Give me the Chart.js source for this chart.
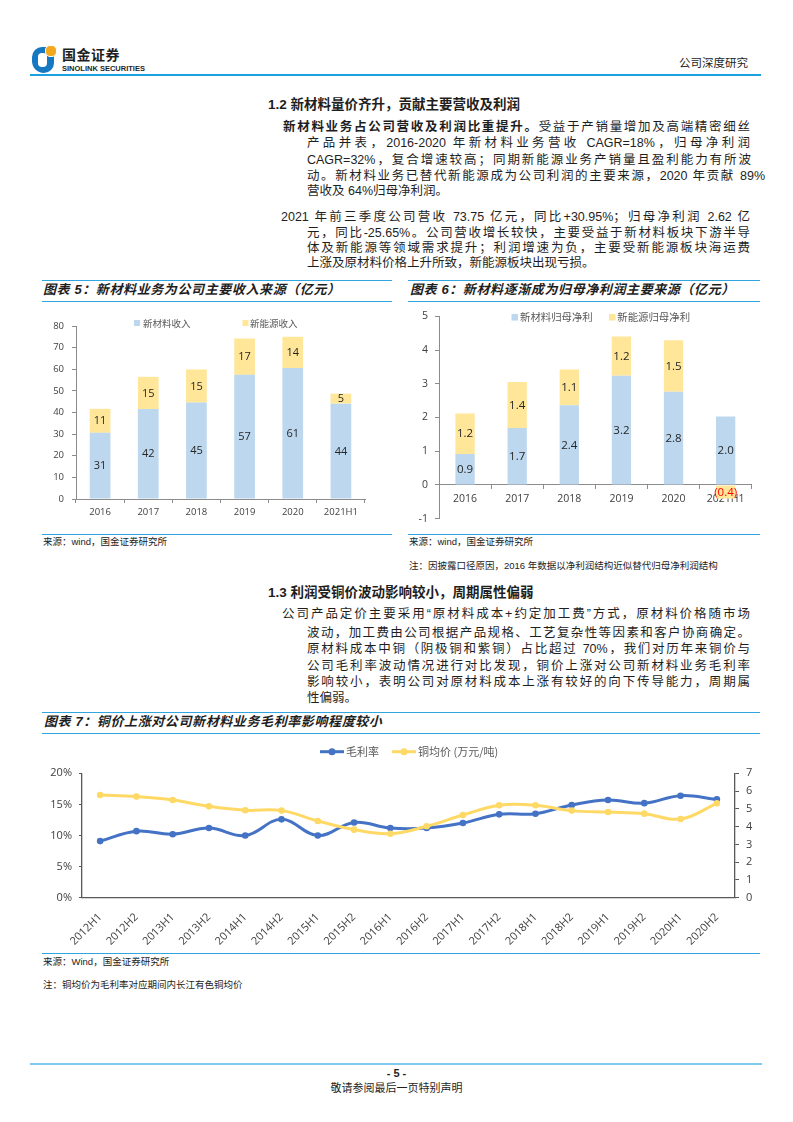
<!DOCTYPE html>
<html><head><meta charset="utf-8">
<script src="https://cdn.jsdelivr.net/npm/chart.js@4.4.1/dist/chart.umd.min.js"></script>
<style>
html,body{margin:0;padding:0;background:#fff;}
body{width:793px;height:1122px;position:relative;overflow:hidden;font-family:"Liberation Sans","Noto Sans CJK SC",sans-serif;color:#1e1e1e;}
.a{position:absolute;white-space:nowrap;}
.t{position:absolute;font-size:12.5px;line-height:16px;height:16px;}
.j{text-align:justify;text-align-last:justify;}
.h{position:absolute;white-space:nowrap;font-weight:bold;font-size:13.5px;line-height:18px;}
.ct{position:absolute;white-space:nowrap;font-weight:bold;font-style:italic;font-size:13px;letter-spacing:0.6px;line-height:18px;}
.bl{position:absolute;height:0;border-top:1.5px solid #31A5DF;}
.src{position:absolute;white-space:nowrap;font-size:9.5px;line-height:12px;color:#222;}
canvas{position:absolute;}
</style></head>
<body>
<!-- header -->
<div class="a" style="left:32px;top:47px;width:22px;height:26px;border-radius:11px 9px 11px 13px;background:#1677C2;"></div>
<div class="a" style="left:38px;top:53px;width:9px;height:14px;border-radius:4px;background:#fff;"></div>
<div class="a" style="left:45px;top:45px;width:10px;height:10px;border-radius:5px;background:#F4A81D;border:1px solid #fff;"></div>
<div class="a" style="left:62px;top:46px;font-size:14px;font-weight:bold;line-height:18px;letter-spacing:0.5px;">国金证券</div>
<div class="a" style="left:62px;top:64px;font-size:7.5px;font-weight:bold;line-height:9px;">SINOLINK SECURITIES</div>
<div class="a" style="left:679px;top:56px;font-size:11.5px;line-height:14px;">公司深度研究</div>
<div class="a" style="left:30px;top:74px;width:731px;border-top:2px solid #1BA1E2;"></div>

<!-- section 1.2 -->
<div class="h" style="left:268px;top:96px;">1.2 新材料量价齐升，贡献主要营收及利润</div>
<div class="t j" style="left:283px;top:119px;width:467px;"><b>新材料业务占公司营收及利润比重提升。</b>受益于产销量增加及高端精密细丝</div>
<div class="t j" style="left:307px;top:135px;width:443px;">产品并表，2016-2020 年新材料业务营收 CAGR=18%，归母净利润</div>
<div class="t j" style="left:307px;top:152px;width:444px;">CAGR=32%，复合增速较高；同期新能源业务产销量且盈利能力有所波</div>
<div class="t j" style="left:307px;top:168px;width:458px;">动。新材料业务已替代新能源成为公司利润的主要来源，2020 年贡献 89%</div>
<div class="t" style="left:307px;top:183px;white-space:nowrap;">营收及 64%归母净利润。</div>
<div class="t j" style="left:281px;top:209px;width:469px;">2021 年前三季度公司营收 73.75 亿元，同比+30.95%；归母净利润 2.62 亿</div>
<div class="t j" style="left:307px;top:225px;width:443px;">元，同比-25.65%。公司营收增长较快，主要受益于新材料板块下游半导</div>
<div class="t j" style="left:307px;top:240px;width:443px;">体及新能源等领域需求提升；利润增速为负，主要受新能源板块海运费</div>
<div class="t" style="left:307px;top:255px;white-space:nowrap;">上涨及原材料价格上升所致，新能源板块出现亏损。</div>

<!-- chart 5 / 6 frames -->
<div class="bl" style="left:42px;top:280px;width:350px;"></div>
<div class="bl" style="left:42px;top:301px;width:350px;"></div>
<div class="ct" style="left:43px;top:281px;">图表 5：新材料业务为公司主要收入来源（亿元）</div>
<div class="bl" style="left:408px;top:280px;width:352px;"></div>
<div class="bl" style="left:408px;top:301px;width:352px;"></div>
<div class="ct" style="left:410px;top:281px;">图表 6：新材料逐渐成为归母净利润主要来源（亿元）</div>
<canvas id="c5" width="350" height="225" style="left:42px;top:305px;width:350px;height:225px;"></canvas>
<canvas id="c6" width="355" height="229" style="left:405px;top:303px;width:355px;height:229px;"></canvas>
<div class="bl" style="left:42px;top:534px;width:350px;"></div>
<div class="bl" style="left:408px;top:534px;width:352px;"></div>
<div class="src" style="left:43px;top:536px;">来源：wind，国金证券研究所</div>
<div class="src" style="left:409px;top:536px;">来源：wind，国金证券研究所</div>
<div class="src" style="left:409px;top:560px;">注：因披露口径原因，2016 年数据以净利润结构近似替代归母净利润结构</div>

<!-- section 1.3 -->
<div class="h" style="left:268px;top:584px;">1.3 利润受铜价波动影响较小，周期属性偏弱</div>
<div class="t j" style="left:282px;top:606px;width:468px;">公司产品定价主要采用“原材料成本+约定加工费”方式，原材料价格随市场</div>
<div class="t j" style="left:307px;top:625px;width:443px;">波动，加工费由公司根据产品规格、工艺复杂性等因素和客户协商确定。</div>
<div class="t j" style="left:307px;top:641px;width:443px;">原材料成本中铜（阴极铜和紫铜）占比超过 70%，我们对历年来铜价与</div>
<div class="t j" style="left:307px;top:658px;width:443px;">公司毛利率波动情况进行对比发现，铜价上涨对公司新材料业务毛利率</div>
<div class="t j" style="left:307px;top:674px;width:443px;">影响较小，表明公司对原材料成本上涨有较好的向下传导能力，周期属</div>
<div class="t" style="left:307px;top:690px;white-space:nowrap;">性偏弱。</div>

<!-- chart 7 -->
<div class="bl" style="left:42px;top:712px;width:718px;"></div>
<div class="bl" style="left:42px;top:733px;width:718px;"></div>
<div class="ct" style="left:44px;top:713px;">图表 7：铜价上涨对公司新材料业务毛利率影响程度较小</div>
<canvas id="c7" width="740" height="215" style="left:30px;top:740px;width:740px;height:215px;"></canvas>
<div class="bl" style="left:42px;top:953px;width:718px;"></div>
<div class="src" style="left:43px;top:956px;">来源：Wind，国金证券研究所</div>
<div class="src" style="left:43px;top:979px;">注：铜均价为毛利率对应期间内长江有色铜均价</div>

<!-- footer -->
<div class="a" style="left:30px;top:1063px;width:732px;border-top:2.5px solid #7FCBEF;"></div>
<div class="a" style="left:0;width:793px;top:1066px;text-align:center;font-size:11px;font-weight:bold;line-height:14px;">- 5 -</div>
<div class="a" style="left:0;width:793px;top:1081px;text-align:center;font-size:11px;line-height:14px;">敬请参阅最后一页特别声明</div>

<script>
// ---- data ----
const barCategories = ['2016', '2017', '2018', '2019', '2020', '2021H1'];
const revenueNewMaterial = [30.6, 41.6, 44.6, 57.4, 60.6, 44.1];
const revenueNewEnergy = [11.1, 14.9, 15.3, 16.8, 14.4, 4.6];
const profitNewMaterial = [0.92, 1.69, 2.36, 3.24, 2.76, 2.03];
const profitNewEnergy = [1.2, 1.36, 1.06, 1.16, 1.53, -0.4];
const halfYears = ['2012H1', '2012H2', '2013H1', '2013H2', '2014H1', '2014H2', '2015H1', '2015H2', '2016H1',
  '2016H2', '2017H1', '2017H2', '2018H1', '2018H2', '2019H1', '2019H2', '2020H1', '2020H2'];
const grossMarginPct = [9.1, 10.7, 10.2, 11.2, 10.0, 12.6, 10.0, 12.1, 11.2, 11.2, 12.0, 13.4, 13.5, 14.9, 15.7, 15.2, 16.4, 15.8];
const copperPrice = [5.78, 5.69, 5.50, 5.14, 4.92, 4.90, 4.32, 3.83, 3.60, 4.02, 4.65, 5.20, 5.20, 4.90, 4.82, 4.73, 4.43, 5.31];

// ---- helpers ----
const FF = "'Open Sans','Noto Sans CJK SC',sans-serif";
const LF = "'Noto Sans CJK SC','Open Sans',sans-serif";

function valueLabels(fmt, colorFn, font) {
  return {
    id: 'valueLabels',
    afterDatasetsDraw(chart) {
      const ctx = chart.ctx;
      ctx.save();
      ctx.font = font;
      ctx.textAlign = 'center';
      ctx.textBaseline = 'middle';
      chart.data.datasets.forEach((ds, di) => {
        chart.getDatasetMeta(di).data.forEach((el, i) => {
          const v = ds.data[i];
          const p = el.getCenterPoint();
          ctx.fillStyle = colorFn(v);
          ctx.fillText(fmt(v), p.x, p.y + 0.5);
        });
      });
      ctx.restore();
    }
  };
}

function boxLegend(items, font, box) {
  return {
    id: 'boxLegend',
    afterDraw(chart) {
      const ctx = chart.ctx;
      ctx.save();
      ctx.font = font;
      ctx.textBaseline = 'middle';
      ctx.textAlign = 'left';
      items.forEach(it => {
        const ds = chart.data.datasets[it.ds];
        ctx.fillStyle = ds.backgroundColor;
        ctx.fillRect(it.x, it.y - box / 2, box, box);
        ctx.fillStyle = '#595959';
        ctx.fillText(ds.label, it.tx, it.y);
      });
      ctx.restore();
    }
  };
}

function lineLegend(items, font) {
  return {
    id: 'lineLegend',
    afterDraw(chart) {
      const ctx = chart.ctx;
      ctx.save();
      ctx.font = font;
      ctx.textBaseline = 'middle';
      ctx.textAlign = 'left';
      items.forEach(it => {
        const ds = chart.data.datasets[it.ds];
        ctx.strokeStyle = ds.borderColor;
        ctx.lineWidth = 3;
        ctx.beginPath();
        ctx.moveTo(it.x, it.y);
        ctx.lineTo(it.x + 24, it.y);
        ctx.stroke();
        ctx.fillStyle = ds.borderColor;
        ctx.beginPath();
        ctx.arc(it.x + 12, it.y, 3.5, 0, Math.PI * 2);
        ctx.fill();
        ctx.fillStyle = '#595959';
        ctx.fillText(ds.label, it.x + 26, it.y);
      });
      ctx.restore();
    }
  };
}

const AX = '#8C8C8C';
const TXT = '#404040';

// ---- chart 5 ----
new Chart(document.getElementById('c5'), {
  type: 'bar',
  data: {
    labels: barCategories,
    datasets: [
      { label: '新材料收入', data: revenueNewMaterial, backgroundColor: '#BDD7EE', barPercentage: 0.43, categoryPercentage: 1 },
      { label: '新能源收入', data: revenueNewEnergy, backgroundColor: '#FFE699', barPercentage: 0.43, categoryPercentage: 1 }
    ]
  },
  options: {
    responsive: false, animation: false, devicePixelRatio: 1,
    layout: { padding: { top: 21, right: 27, left: 0, bottom: 0 } },
    plugins: { legend: { display: false }, tooltip: { enabled: false } },
    scales: {
      x: {
        stacked: true,
        grid: { drawOnChartArea: false, drawTicks: true, tickLength: 4, color: AX },
        border: { display: true, color: AX, width: 1 },
        ticks: { color: TXT, padding: 4, font: { size: 9.5, family: FF } },
        afterFit(s) { s.height = 31; }
      },
      y: {
        stacked: true, min: 0, max: 80,
        grid: { drawOnChartArea: false, drawTicks: true, tickLength: 4, color: AX },
        border: { display: true, color: AX, width: 1 },
        ticks: { stepSize: 10, color: TXT, padding: 8, font: { size: 9.5, family: FF } },
        afterFit(s) { s.width = 34; }
      }
    }
  },
  plugins: [
    valueLabels(v => String(Math.round(v)), v => '#262626', '11px ' + FF),
    boxLegend([{ ds: 0, x: 92, tx: 101, y: 18 }, { ds: 1, x: 200.5, tx: 208, y: 18 }], '9.5px ' + LF, 6)
  ]
});

// ---- chart 6 ----
new Chart(document.getElementById('c6'), {
  type: 'bar',
  data: {
    labels: barCategories,
    datasets: [
      { label: '新材料归母净利', data: profitNewMaterial, backgroundColor: '#BDD7EE', barPercentage: 0.37, categoryPercentage: 1 },
      { label: '新能源归母净利', data: profitNewEnergy, backgroundColor: '#FFE699', barPercentage: 0.37, categoryPercentage: 1 }
    ]
  },
  options: {
    responsive: false, animation: false, devicePixelRatio: 1,
    layout: { padding: { top: 13, right: 8.3, left: 0, bottom: 7 } },
    plugins: { legend: { display: false }, tooltip: { enabled: false } },
    scales: {
      x: {
        stacked: true, position: { y: 0 },
        grid: { drawOnChartArea: false, drawTicks: true, tickLength: 4, color: AX },
        border: { display: true, color: AX, width: 1 },
        ticks: { color: TXT, padding: 4, font: { size: 10.5, family: FF } }
      },
      y: {
        stacked: true, min: -1, max: 5,
        grid: { drawOnChartArea: false, drawTicks: true, tickLength: 4, color: AX },
        border: { display: true, color: AX, width: 1 },
        ticks: { stepSize: 1, color: TXT, padding: 7, font: { size: 10.5, family: FF } },
        afterFit(s) { s.width = 34; }
      }
    }
  },
  plugins: [
    valueLabels(v => v < 0 ? '(' + Math.abs(v).toFixed(1) + ')' : v.toFixed(1), v => v < 0 ? '#FF0000' : '#262626', '11.5px ' + FF),
    boxLegend([{ ds: 0, x: 106.5, tx: 115, y: 14.3 }, { ds: 1, x: 204, tx: 212.3, y: 14.3 }], '10.4px ' + LF, 6.5)
  ]
});

// ---- chart 7 ----
new Chart(document.getElementById('c7'), {
  type: 'line',
  data: {
    labels: halfYears,
    datasets: [
      { label: '毛利率', data: grossMarginPct, yAxisID: 'y', borderColor: '#4472C4', backgroundColor: '#4472C4',
        borderWidth: 3, pointRadius: 3.3, pointBackgroundColor: '#4472C4', pointBorderWidth: 0, tension: 0.4, order: 1 },
      { label: '铜均价 (万元/吨)', data: copperPrice, yAxisID: 'y1', borderColor: '#FFD966', backgroundColor: '#FFD966',
        borderWidth: 3, pointRadius: 3.3, pointBackgroundColor: '#FFD966', pointBorderWidth: 0, tension: 0.4, order: 0 }
    ]
  },
  options: {
    responsive: false, animation: false, devicePixelRatio: 1,
    layout: { padding: { top: 33.3, right: 0, left: 0, bottom: 0 } },
    plugins: { legend: { display: false }, tooltip: { enabled: false } },
    scales: {
      x: {
        offset: true,
        grid: { display: false, offset: true },
        border: { display: true, color: '#595959', width: 1.3 },
        ticks: { minRotation: 45, maxRotation: 45, autoSkip: false, padding: 5, color: TXT, font: { size: 11, family: FF } },
        afterFit(s) { s.height = 57.3; }
      },
      y: {
        position: 'left', min: 0, max: 20,
        grid: { drawOnChartArea: false, drawTicks: true, tickLength: 3, color: '#595959' },
        border: { display: true, color: '#595959', width: 1.3 },
        ticks: { stepSize: 5, callback: v => v + '%', color: TXT, padding: 7, font: { size: 11, family: FF } },
        afterFit(s) { s.width = 52; }
      },
      y1: {
        position: 'right', min: 0, max: 7,
        grid: { drawOnChartArea: false, drawTicks: true, tickLength: 4, color: '#595959' },
        border: { display: true, color: '#595959', width: 1.3 },
        ticks: { stepSize: 1, color: TXT, padding: 7, font: { size: 11, family: FF } },
        afterFit(s) { s.width = 35; }
      }
    }
  },
  plugins: [
    lineLegend([{ ds: 0, x: 290, y: 11.7 }, { ds: 1, x: 362, y: 11.7 }], '11px ' + LF)
  ]
});
</script>
</body></html>
